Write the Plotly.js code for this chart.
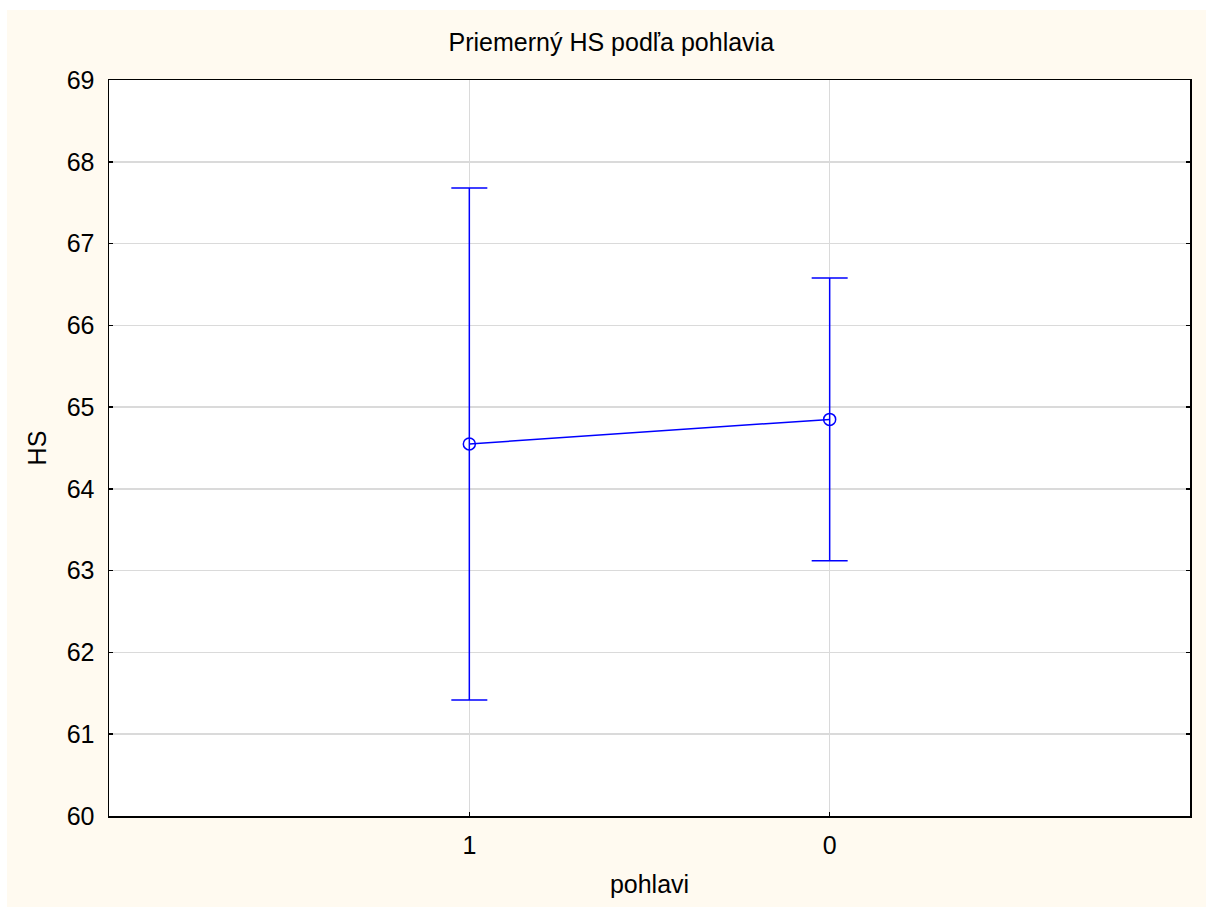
<!DOCTYPE html>
<html>
<head>
<meta charset="utf-8">
<script src="https://cdn.plot.ly/plotly-3.0.1.min.js"></script>
<style>
html,body{margin:0;padding:0;background:#ffffff;}
#chart{position:absolute;left:7px;top:10px;width:1199px;height:897px;}
</style>
</head>
<body>
<div id="chart"></div>
<script>
var categories = ['1', '0'];
var means = [64.55, 64.85];
var errors = [3.13, 1.73];
var yTicks = [60, 61, 62, 63, 64, 65, 66, 67, 68, 69];

var trace = {
  type: 'scatter',
  mode: 'lines+markers',
  x: categories,
  y: means,
  line: {color: '#0000ff', width: 1.5},
  marker: {symbol: 'circle-open', size: 12, color: '#0000ff', line: {width: 1.5, color: '#0000ff'}},
  error_y: {type: 'data', array: errors, visible: true, color: '#0000ff', thickness: 1.5, width: 18},
  hoverinfo: 'none'
};

var font = {family: 'Liberation Sans, Arial, sans-serif', color: '#000000'};

var layout = {
  width: 1199, height: 897,
  paper_bgcolor: '#fffaf0',
  plot_bgcolor: '#ffffff',
  margin: {l: 102, r: 16, t: 70, b: 91},
  showlegend: false,
  font: font,
  title: {text: 'Priemerný HS podľa pohlavia', font: {family: font.family, size: 25, color: '#000'}, x: 0.504, xanchor: 'center', y: 0.9644, yanchor: 'middle'},
  xaxis: {
    type: 'category',
    range: [-1, 2],
    title: {text: 'pohlavi', font: {size: 25}, standoff: 18},
    tickfont: {size: 25},
    ticklabelstandoff: 6,
    showline: true, linecolor: '#000', linewidth: 1.5, mirror: true,
    ticks: 'inside', ticklen: 4, tickcolor: '#000', tickwidth: 1.5,
    showgrid: true, gridcolor: '#dadada', gridwidth: 1.5,
    zeroline: false, fixedrange: true
  },
  yaxis: {
    range: [60, 69],
    tickvals: yTicks,
    ticktext: yTicks.map(String),
    title: {text: 'HS', font: {size: 25}, standoff: 13},
    tickfont: {size: 25},
    ticklabelstandoff: 8,
    showline: true, linecolor: '#000', linewidth: 1.5, mirror: 'ticks',
    ticks: 'inside', ticklen: 4, tickcolor: '#000', tickwidth: 1.5,
    showgrid: true, gridcolor: '#dadada', gridwidth: 1.5,
    zeroline: false, fixedrange: true
  }
};

Plotly.newPlot('chart', [trace], layout, {displayModeBar: false, staticPlot: true});
</script>
</body>
</html>
